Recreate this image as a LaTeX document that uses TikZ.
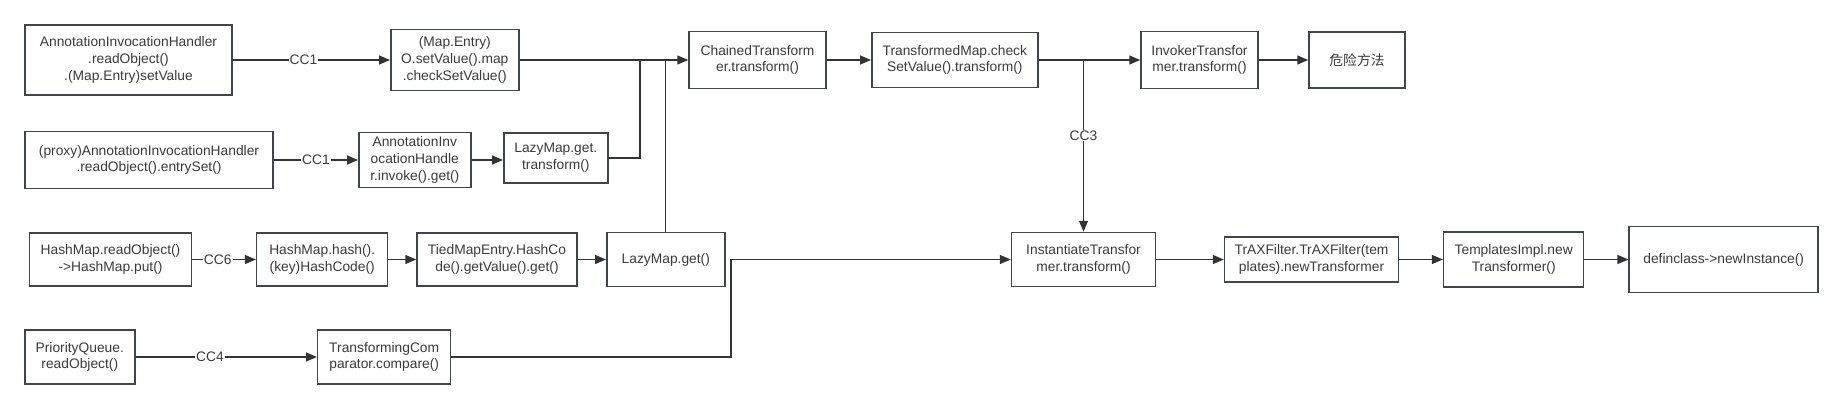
\documentclass[tikz,border=0pt]{standalone}
\usepackage{fontspec}
\setmainfont{Liberation Sans}
\newfontfamily\cjk{Noto Sans CJK SC}
\usetikzlibrary{arrows.meta}
\definecolor{edgegray}{HTML}{333333}
\definecolor{boxgray}{HTML}{3F454B}
\definecolor{textgray}{HTML}{3A3A3A}

\begin{document}
\begin{tikzpicture}[x=1pt,y=-1pt]
                \useasboundingbox (0,0) rectangle (1843,409);
                \begin{scope}[every node/.style={draw=boxgray, line width=1.5pt, rectangle, align=center, inner sep=2pt, text=textgray, font=\fontsize{13.8}{16.7}\selectfont}]
                        % first row
                        \node[minimum width=207pt, minimum height=70pt] (Ann1) at (128.5,60) {AnnotationInvocationHandler\\.readObject()\\.(Map.Entry)setValue};
                        \node[minimum width=128pt, minimum height=61pt] (Map1) at (454.8,60) {(Map.Entry)\\O.setValue().map\\.checkSetValue()};
                        \node[minimum width=137pt, minimum height=57pt] (Chain) at (757.5,60) {ChainedTransform\\er.transform()};
                        \node[minimum width=166pt, minimum height=55pt] (TMap) at (954.8,60) {TransformedMap.check\\SetValue().transform()};
                        \node[minimum width=117pt, minimum height=57pt] (Inv) at (1199.5,60) {InvokerTransfor\\mer.transform()};
                        \node[minimum width=96pt, minimum height=56pt] (Danger) at (1357,60) {\cjk 危险方法};
                        % second row
                        \node[minimum width=248pt, minimum height=57pt] (Ann2) at (149,160) {(proxy)AnnotationInvocationHandler\\.readObject().entrySet()};
                        \node[minimum width=112pt, minimum height=55pt] (AnnInv) at (414.8,160) {AnnotationInv\\ocationHandle\\r.invoke().get()};
                        \node[minimum width=104pt, minimum height=50pt] (LazyT) at (555.8,158) {LazyMap.get.\\transform()};
                        % third row
                        \node[minimum width=162pt, minimum height=53pt] (Hash1) at (110.5,259.5) {HashMap.readObject()\\->HashMap.put()};
                        \node[minimum width=131pt, minimum height=53pt] (Hash2) at (322.2,259.5) {HashMap.hash().\\(key)HashCode()};
                        \node[minimum width=160pt, minimum height=53pt] (Tied) at (497,259.5) {TiedMapEntry.HashCo\\de().getValue().get()};
                        \node[minimum width=118pt, minimum height=54pt] (Lazy) at (665.8,259.5) {LazyMap.get()};
                        \node[minimum width=144pt, minimum height=54pt] (Inst) at (1083.5,259.5) {InstantiateTransfor\\mer.transform()};
                        \node[minimum width=174pt, minimum height=45pt] (TrAX) at (1311.5,259.5) {TrAXFilter.TrAXFilter(tem\\plates).newTransformer};
                        \node[minimum width=140pt, minimum height=55pt] (Tpl) at (1513.7,259.5) {TemplatesImpl.new\\Transformer()};
                        \node[minimum width=189pt, minimum height=66pt] (Def) at (1723.7,259.5) {definclass->newInstance()};
                        % fourth row
                        \node[minimum width=110pt, minimum height=54pt] (PQ) at (79.8,357) {PriorityQueue.\\readObject()};
                        \node[minimum width=133pt, minimum height=54pt] (TComp) at (384.2,357) {TransformingCom\\parator.compare()};
                \end{scope}
                \coordinate (j1) at (640,60);
                \coordinate (j2) at (665.8,60);
                \coordinate (j3) at (1083.5,60);
                \coordinate (c4) at (731,259.5);
                \begin{scope}[every node/.style={fill=white, inner sep=1pt, text=textgray, font=\fontsize{13.8}{16.7}\selectfont}, every path/.style={draw=edgegray, line width=1.3pt}, flowtip/.style={-{Triangle[length=11pt,width=9pt]}}, every edge/.style={draw=edgegray, line width=1.3pt, flowtip}]
                        \path (Ann1) edge node[pos=0.45] {CC1} (Map1);
                        \path (Map1) edge (Chain);
                        \path (Chain) edge (TMap);
                        \path (TMap) edge (Inv);
                        \path (Inv) edge (Danger);
                        \path (j3) edge node[pos=0.44] {CC3} (Inst.north);
                        \path (Ann2) edge node[pos=0.5] {CC1} (AnnInv);
                        \path (AnnInv.east) edge (AnnInv.east -| LazyT.west);
                        \draw (LazyT.east) -| (j1);
                        \draw (Lazy.north) -- (j2);
                        \path (Hash1) edge node[pos=0.4] {CC6} (Hash2);
                        \path (Hash2) edge (Tied);
                        \path (Tied) edge (Lazy);
                        \path (PQ) edge node[pos=0.41] {CC4} (TComp);
                        \draw[flowtip] (TComp.east) -| (c4) -- (Inst.west);
                        \path (Inst) edge (TrAX);
                        \path (TrAX) edge (Tpl);
                        \path (Tpl) edge (Def);
                \end{scope}
        \end{tikzpicture}
\end{document}
